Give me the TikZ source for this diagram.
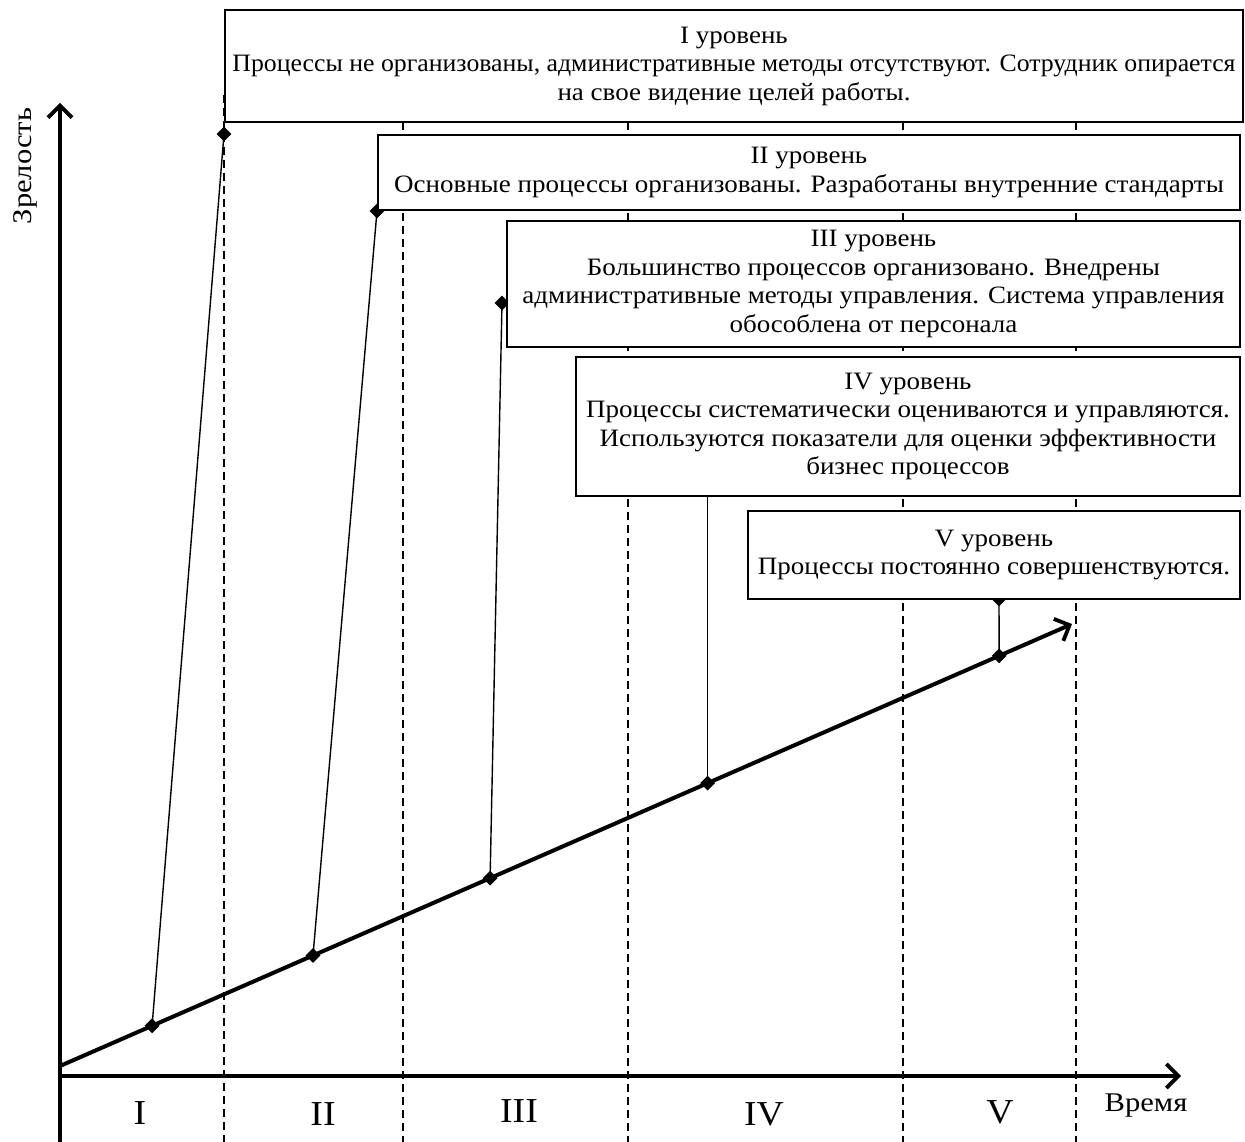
\documentclass[tikz,border=0pt]{standalone}
\usepackage{fontspec}
\usepackage{graphicx}
\setmainfont{Liberation Serif}[FakeStretch=1.08]
\usetikzlibrary{arrows.meta,shapes.geometric}
\begin{document}
\begin{tikzpicture}[x=1pt,y=-1pt,
  box/.style={draw, line width=1.5pt, fill=white, align=center, inner sep=0pt,
    font=\fontsize{25}{28.5}\selectfont},
  guide/.style={dash pattern=on 8pt off 5pt, line width=1.1pt},
  conn/.style={line width=1.4pt},
  dia/.style={diamond, fill=black, draw=none, inner sep=0pt, minimum size=15pt},
  axis/.style={line width=4pt, -{Straight Barb[length=12pt,width=24pt,line width=3.8pt]}},
  roman/.style={font=\fontsize{35}{35}\selectfont},
  lbl/.style={font=\fontsize{27}{27}\selectfont}]
\useasboundingbox (0,0) rectangle (1245,1142);

% guide lines
\coordinate (g1t) at (224,95);  \coordinate (g1b) at (224,1142);
\coordinate (g2t) at (403,122); \coordinate (g2b) at (403,1142);
\coordinate (g3t) at (628,122); \coordinate (g3b) at (628,1142);
\coordinate (g4t) at (903,122); \coordinate (g4b) at (903,1142);
\coordinate (g5t) at (1076,122); \coordinate (g5b) at (1076,1142);
\draw[guide] (g1t) -- (g1b);
\draw[guide] (g2t) -- (g2b);
\draw[guide] (g3t) -- (g3b);
\draw[guide] (g4t) -- (g4b);
\draw[guide] (g5t) -- (g5b);

% trend path coordinates
\coordinate (t0) at (60,1066);
\coordinate (t1) at (1072,624);
\path (t0) -- (t1)
  coordinate[pos=0.091] (p1)
  coordinate[pos=0.250] (p2)
  coordinate[pos=0.425] (p3)
  coordinate[pos=0.640] (p4)
  coordinate[pos=0.928] (p5);

% top ends of connectors
\node[dia] (d1) at (224,134) {};
\node[dia] (d2) at (377,211) {};
\node[dia] (d3) at (502,303) {};
\node[dia] (d5) at (999,599) {};

\draw[conn] (p1) -- (d1.center);
\draw[conn] (p2) -- (d2.center);
\draw[conn] (p3) -- (d3.center);
\draw[conn] (p5) -- (d5.center);

% boxes
\node[box, minimum width=1018pt, minimum height=112pt] (b1) at (734,66)
  {I уровень\\\scalebox{0.955}[1]{Процессы не организованы, административные методы отсутствуют. Сотрудник опирается}\\на свое видение целей работы.};
\node[box, minimum width=862pt, minimum height=75pt] (b2) at (809,172.5)
  {II уровень\\Основные процессы организованы. Разработаны внутренние стандарты};
\node[box, minimum width=733pt, minimum height=126pt] (b3) at (873.5,284)
  {III уровень\\Большинство процессов организовано. Внедрены\\административные методы управления. Система управления\\обособлена от персонала};
\node[box, minimum width=664pt, minimum height=139pt] (b4) at (908,426.5)
  {IV уровень\\Процессы систематически оцениваются и управляются.\\Используются показатели для оценки эффективности\\бизнес процессов};
\node[box, minimum width=492pt, minimum height=88pt] (b5) at (994,555)
  {V уровень\\Процессы постоянно совершенствуются.};

\draw[conn] (p4) -- (p4 |- b4.south);

% axes
\coordinate (o) at (60,1076);
\coordinate (yb) at (60,1142);
\coordinate (yt) at (60,103);
\coordinate (xe) at (1181,1076);
\draw[axis] (yb) -- (yt);
\draw[axis] (o) -- (xe);

% trend line
\draw[axis] (t0) -- (t1);
\node[dia] (q1) at (p1) {};
\node[dia] (q2) at (p2) {};
\node[dia] (q3) at (p3) {};
\node[dia] (q4) at (p4) {};
\node[dia] (q5) at (p5) {};

% labels
\node[lbl, rotate=90] (zr) at (25,166) {\scalebox{1.05}[1]{Зрелость}};
\node[lbl] (vr) at (1146,1106) {\scalebox{1.05}[1]{Время}};
\node[roman] (r1) at (140,1113) {I};
\node[roman] (r2) at (323,1114) {II};
\node[roman] (r3) at (519,1111) {III};
\node[roman] (r4) at (764,1114) {IV};
\node[roman] (r5) at (1000,1112) {V};
\end{tikzpicture}
\end{document}
